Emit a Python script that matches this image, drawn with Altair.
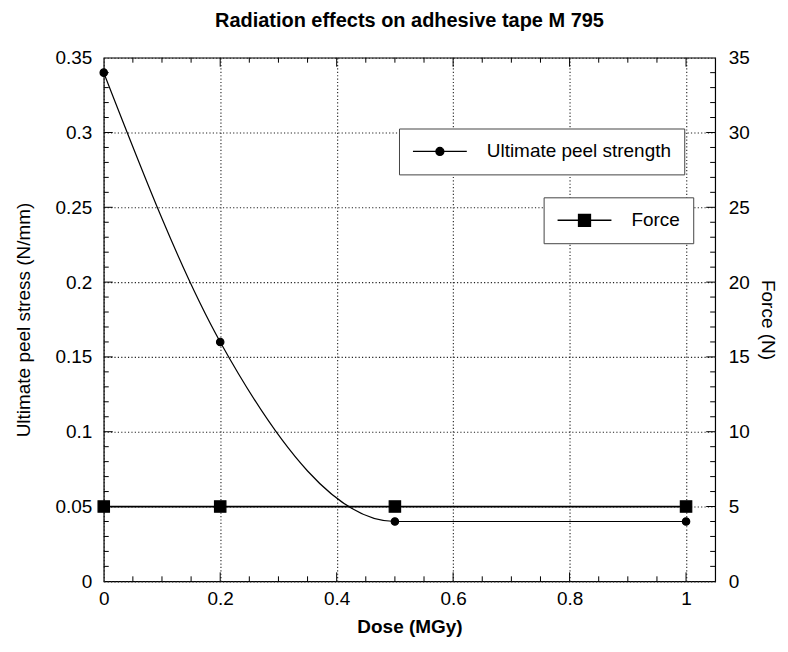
import altair as alt
import pandas as pd

# ---- data ----
dose = [0, 0.2, 0.5, 1.0]
peel_stress = [0.34, 0.16, 0.04, 0.04]
force = [5, 5, 5, 5]

x_labels = [0, 0.2, 0.4, 0.6, 0.8, 1.0]
y_left_labels = [0, 0.05, 0.1, 0.15, 0.2, 0.25, 0.3, 0.35]
y_right_labels = [0, 5, 10, 15, 20, 25, 30, 35]

# tick positions (axis decoration)
x_major = [0.2, 0.4, 0.6, 0.8, 1.0]
x_minor = [round(i * 0.05, 2) for i in range(1, 21) if i % 4 != 0]
y_major = [0.05, 0.1, 0.15, 0.2, 0.25, 0.3]
y_minor = [round(i * 0.01, 2) for i in range(1, 35) if i % 5 != 0]

W, H = 613, 525
FONT = "Liberation Sans"
LBL = 19
TTL = 19

peel_df = pd.DataFrame({"dose": dose, "val": peel_stress, "s": "Ultimate peel strength"})
force_df = pd.DataFrame({"dose": dose, "val": force, "s": "Force"})
xmaj_df = pd.DataFrame({"v": x_major})
xmin_df = pd.DataFrame({"v": x_minor})
ymaj_df = pd.DataFrame({"v": y_major})
ymin_df = pd.DataFrame({"v": y_minor})

xscale = alt.Scale(domain=[0, 1.05], nice=False, zero=False)
lscale = alt.Scale(domain=[0, 0.35], nice=False)
rscale = alt.Scale(domain=[0, 35], nice=False)

GRID = dict(gridDash=[1.2, 2.2], gridColor="#222", gridWidth=1.1)

x_axis = alt.Axis(
    values=x_labels, format="~g", ticks=False, domain=False, grid=True, **GRID,
    labelFontSize=LBL, labelPadding=8, labelColor="black", labelFlush=False,
    title="Dose (MGy)", titleFontSize=TTL, titleFontWeight="bold",
    titlePadding=9, titleColor="black",
)

def X(field):
    return alt.X(f"{field}:Q", scale=xscale, axis=x_axis, title="Dose (MGy)")

def Yl(field):
    return alt.Y(f"{field}:Q", scale=lscale, axis=None)

# legend symbols: a line with a dot / with a square
peel_sym = "M-1,0H5M1.556,0A0.444,0.444,0,1,1,2.444,0A0.444,0.444,0,1,1,1.556,0Z"
force_sym = "M-1,0H5M1.333,-0.667H2.667V0.667H1.333Z"

def legend(sym, lx, ly):
    return alt.Legend(
        title=None, orient="none", legendX=lx, legendY=ly,
        symbolType=sym, symbolSize=324, symbolStrokeWidth=1.3,
        labelOffset=55, labelFontSize=LBL, labelFont=FONT, labelColor="black",
        labelLimit=400, padding=13, strokeColor="#444", fillColor="white",
    )

peel_line = alt.Chart(peel_df).mark_line(
    interpolate="monotone", color="black", strokeWidth=1.2
).encode(x=X("dose"), y=Yl("val"))

peel_pts = alt.Chart(peel_df).mark_point(
    shape="circle", filled=True, size=55, opacity=1, stroke="black", strokeWidth=1.2
).encode(
    x=X("dose"),
    y=alt.Y("val:Q", scale=lscale, axis=alt.Axis(
        orient="left", values=y_left_labels, format="~g", ticks=False, domain=False,
        grid=True, **GRID, labelFlush=False,
        labelFontSize=LBL, labelPadding=12, labelColor="black",
        title="Ultimate peel stress (N/mm)", titleFontSize=TTL,
        titleFontWeight="normal", titlePadding=21, titleColor="black")),
    color=alt.Color("s:N", scale=alt.Scale(domain=["Ultimate peel strength"], range=["black"]),
                    legend=legend(peel_sym, 296, 71)),
)

force_line = alt.Chart(force_df).mark_line(color="black", strokeWidth=1.8).encode(
    x=X("dose"), y=alt.Y("val:Q", scale=rscale, axis=None)
)

force_pts = alt.Chart(force_df).mark_point(
    shape="square", filled=True, size=130, opacity=1, stroke="black", strokeWidth=1.2
).encode(
    x=X("dose"),
    y=alt.Y("val:Q", scale=rscale, axis=alt.Axis(
        orient="right", values=y_right_labels, format="~g", ticks=False, domain=False,
        grid=False, labelFontSize=LBL, labelPadding=13, labelColor="black", labelFlush=False,
        title="Force (N)", titleFontSize=TTL, titleFontWeight="normal",
        titlePadding=8, titleColor="black")),
    color=alt.Color("s:N", scale=alt.Scale(domain=["Force"], range=["black"]),
                    legend=legend(force_sym, 441, 140)),
)

def xticks(df, L):
    bottom = alt.Chart(df).mark_rule(color="black", strokeWidth=1).encode(
        x=X("v"), y=alt.value(H), y2=alt.value(H - L))
    top = alt.Chart(df).mark_rule(color="black", strokeWidth=1).encode(
        x=X("v"), y=alt.value(0), y2=alt.value(L))
    return [bottom, top]

def yticks(df, L):
    left = alt.Chart(df).mark_rule(color="black", strokeWidth=1).encode(
        y=Yl("v"), x=alt.value(0), x2=alt.value(L))
    right = alt.Chart(df).mark_rule(color="black", strokeWidth=1).encode(
        y=Yl("v"), x=alt.value(W), x2=alt.value(W - L))
    return [left, right]

layers = (xticks(xmaj_df, 9) + xticks(xmin_df, 5) + yticks(ymaj_df, 9) + yticks(ymin_df, 5)
          + [peel_line, force_line, peel_pts, force_pts])

chart = alt.layer(*layers).resolve_scale(
    y="independent", color="independent"
).properties(
    width=W, height=H,
    title=alt.TitleParams("Radiation effects on adhesive tape M 795", fontSize=20,
                          fontWeight="bold", font=FONT, color="black", offset=18,
                          frame="group", anchor="middle"),
    padding={"left": 7, "top": 2, "right": 3, "bottom": 0},
).configure(font=FONT).configure_view(stroke="black", strokeWidth=1.2)

chart.save("out.html", embed_options={"renderer": "svg", "actions": False})
